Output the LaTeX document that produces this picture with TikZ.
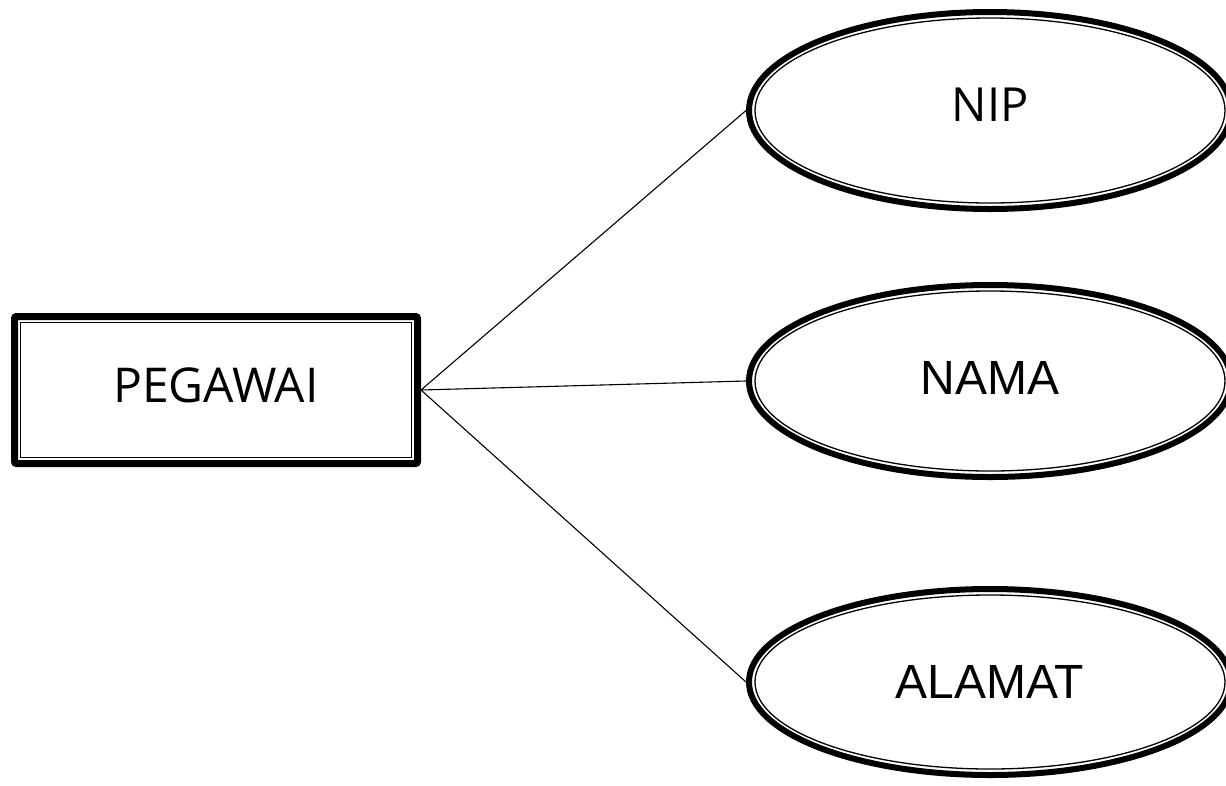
\documentclass[tikz,border=0pt]{standalone}
\usepackage{fontspec}
\setmainfont{Liberation Sans}
\newfontfamily\opensans{Open Sans}
\usetikzlibrary{shapes.geometric}
\tikzset{
  entitybox/.style={draw, line width=7pt, rounded corners=2pt, inner sep=0pt,
    minimum width=403pt, minimum height=147pt, font=\opensans\fontsize{48}{56}\selectfont},
  attrell/.style={draw, ellipse, line width=6pt, inner sep=0pt,
    minimum width=482pt, font=\fontsize{48}{58}\selectfont},
  innerline/.style={line width=1.3pt},
  conn/.style={line width=1.1pt}
}
\begin{document}
\begin{tikzpicture}[x=1pt,y=-1pt]
\useasboundingbox (0,0) rectangle (1226,785);
\clip (0,0) rectangle (1226,785);
% entity
\node[entitybox, text depth=9pt] (peg) at (216,390) {PEGAWAI};
\draw[innerline] ([shift={(9.5pt,9.5pt)}]peg.south west) rectangle ([shift={(-9.5pt,-9.5pt)}]peg.north east);
% attributes
\node[attrell, minimum height=197pt, text depth=11pt, font=\opensans\fontsize{47}{56}\selectfont] (nip) at (990,110.5) {NIP};
\draw[innerline] (nip.center) ellipse [x radius=235pt, y radius=92.5pt];
\node[attrell, minimum height=192pt, text depth=7pt] (nama) at (990,381) {NAMA};
\draw[innerline] (nama.center) ellipse [x radius=235pt, y radius=90pt];
\node[attrell, minimum height=186pt, text depth=1pt] (alamat) at (990,682) {ALAMAT};
\draw[innerline] (alamat.center) ellipse [x radius=235pt, y radius=87pt];
% connectors
\draw[conn] (peg.east) -- (nip.west);
\draw[conn] (peg.east) -- (nama.west);
\draw[conn] (peg.east) -- (alamat.west);
\end{tikzpicture}
\end{document}
